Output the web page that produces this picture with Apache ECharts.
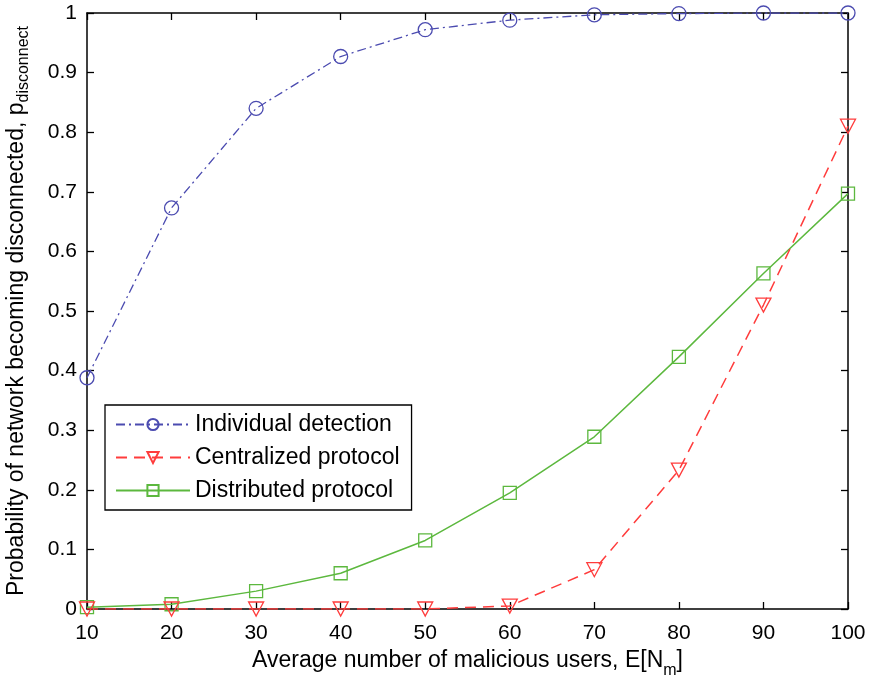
<!DOCTYPE html>
<html><head><meta charset="utf-8">
<script src="https://cdn.jsdelivr.net/npm/echarts@6/dist/echarts.min.js"></script>
<style>html,body{margin:0;padding:0;background:#fff}#c{width:871px;height:679px}</style>
</head><body><div id="c"></div>
<script>
const xValues = [10, 20, 30, 40, 50, 60, 70, 80, 90, 100];
const individualDetection = [0.388, 0.673, 0.840, 0.927, 0.972, 0.988, 0.997, 0.999, 1.0, 1.0];
const centralizedProtocol = [0.0, 0.0, 0.0, 0.0, 0.0, 0.005, 0.066, 0.233, 0.510, 0.810];
const distributedProtocol = [0.003, 0.008, 0.030, 0.060, 0.115, 0.195, 0.289, 0.423, 0.563, 0.697];
const seriesNames = ['Individual detection', 'Centralized protocol', 'Distributed protocol'];

const FONT = 'Liberation Sans';
const chart = echarts.init(document.getElementById('c'), null, {renderer: 'canvas'});
const pair = arr => xValues.map((x, i) => [x, arr[i]]);
const hollow = c => ({color: 'rgba(255,255,255,0)', borderColor: c, borderWidth: 1.3});
const BLUE = '#4b4bb0', RED = '#ff3c3c', GREEN = '#5cb83e';

const axisCommon = {
  axisLine: {show: true, onZero: false, lineStyle: {color: '#000', width: 1.5}},
  axisTick: {show: true, inside: true, length: 7, lineStyle: {color: '#000', width: 1.3}},
  splitLine: {show: false}
};

chart.setOption({
  animation: false,
  backgroundColor: '#fff',
  grid: {left: 87, right: 23, top: 13, bottom: 70, containLabel: false, outerBoundsMode: 'none'},
  legend: {
    orient: 'vertical', left: 105, top: 405,
    data: seriesNames,
    itemWidth: 74, itemHeight: 14, itemGap: 10,
    padding: [8, 12, 8, 10],
    borderColor: '#000', borderWidth: 1.3,
    backgroundColor: '#fff',
    textStyle: {fontFamily: FONT, fontSize: 23, color: '#000'}
  },
  xAxis: [
    Object.assign({}, axisCommon, {
      type: 'value', min: 10, max: 100, interval: 10, position: 'bottom',
      axisLabel: {fontFamily: FONT, fontSize: 21, color: '#000', margin: 14},
      name: '{t|Average number of malicious users, E[N}{s|m}{t|]}',
      nameLocation: 'middle', nameGap: 39,
      nameTextStyle: {rich: {
        t: {fontFamily: FONT, fontSize: 23, color: '#000', lineHeight: 24, verticalAlign: 'top'},
        s: {fontFamily: FONT, fontSize: 16, color: '#000', lineHeight: 24, verticalAlign: 'top', padding: [14, 0, 0, 0]}
      }}
    }),
    Object.assign({}, axisCommon, {
      type: 'value', min: 10, max: 100, interval: 10, position: 'top',
      axisLabel: {show: false}
    })
  ],
  yAxis: [
    Object.assign({}, axisCommon, {
      type: 'value', min: 0, max: 1, interval: 0.1, position: 'left',
      axisLabel: {fontFamily: FONT, fontSize: 21, color: '#000', margin: 10,
        formatter: v => String(Math.round(v * 10) / 10)},
      name: '{t|Probability of network becoming disconnected, p}{s|disconnect}',
      nameLocation: 'middle', nameGap: 58, nameRotate: 90,
      nameTextStyle: {rich: {
        t: {fontFamily: FONT, fontSize: 23, color: '#000', lineHeight: 24, verticalAlign: 'top'},
        s: {fontFamily: FONT, fontSize: 16, color: '#000', lineHeight: 24, verticalAlign: 'top', padding: [11, 0, 0, 0]}
      }}
    }),
    Object.assign({}, axisCommon, {
      type: 'value', min: 0, max: 1, interval: 0.1, position: 'right',
      axisLabel: {show: false}
    })
  ],
  series: [
    {
      name: seriesNames[0], type: 'line', data: pair(individualDetection),
      symbol: 'circle', symbolSize: 14,
      lineStyle: {color: BLUE, width: 1.3, type: [9, 4, 2, 4]},
      itemStyle: hollow(BLUE), z: 3
    },
    {
      name: seriesNames[1], type: 'line', data: pair(centralizedProtocol),
      symbol: 'path://M0,0 L10,0 L5,9 Z', symbolSize: [15, 14],
      lineStyle: {color: RED, width: 1.5, type: [11, 7]},
      itemStyle: hollow(RED), z: 4
    },
    {
      name: seriesNames[2], type: 'line', data: pair(distributedProtocol),
      symbol: 'rect', symbolSize: 13,
      lineStyle: {color: GREEN, width: 1.5, type: 'solid'},
      itemStyle: hollow(GREEN), z: 3
    }
  ]
});
</script></body></html>
